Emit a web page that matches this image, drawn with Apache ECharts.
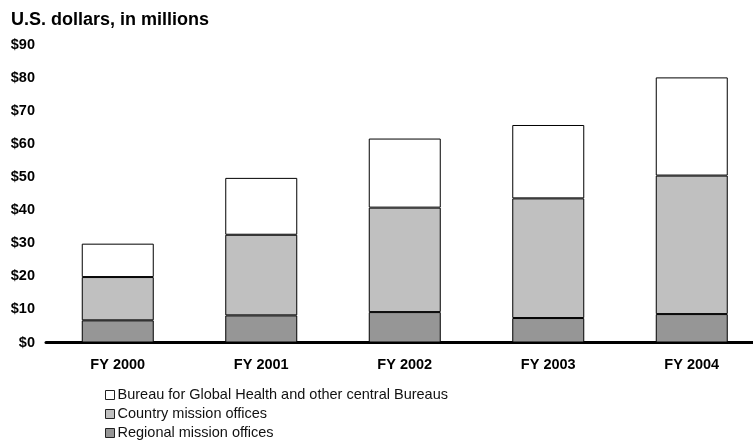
<!DOCTYPE html>
<html><head><meta charset="utf-8">
<script src="https://cdn.jsdelivr.net/npm/echarts@6/dist/echarts.min.js"></script>
<style>html,body{margin:0;padding:0;background:#fff;overflow:hidden}#c{width:770px;height:441px}</style>
</head><body><div id="c"></div>
<script>
const categories = ['FY 2000', 'FY 2001', 'FY 2002', 'FY 2003', 'FY 2004'];
const regionalMission = [6.7, 8.2, 9.2, 7.4, 8.6];
const countryMission = [13.1, 24.4, 31.6, 36.2, 41.9];
const bureauGlobal = [10.1, 17.2, 20.9, 22.2, 29.7];
const seriesNames = ['Bureau for Global Health and other central Bureaus', 'Country mission offices', 'Regional mission offices'];

const chart = echarts.init(document.getElementById('c'));
const font = 'Liberation Sans, Arial, Helvetica, sans-serif';
const barStyle = c => ({ color: c, borderColor: '#000', borderWidth: 1 });
chart.setOption({
  animation: false,
  title: { text: 'U.S. dollars, in millions', left: 11, top: 11, padding: 0,
    textStyle: { fontFamily: font, fontSize: 18, fontWeight: 'bold', color: '#000' } },
  legend: {
    orient: 'vertical', left: 105, top: 387, padding: 0, icon: 'rect', itemWidth: 9, itemHeight: 9, itemGap: 3,
    height: 60,
    itemStyle: { borderColor: '#222', borderWidth: 1 },
    data: seriesNames,
    textStyle: { fontFamily: font, fontSize: 14.5, lineHeight: 16, color: '#111', padding: [0, 0, 0, -2] }
  },
  grid: { left: 46, right: 6.5, top: 45, bottom: 98.5, containLabel: false },
  xAxis: {
    type: 'category', data: categories,
    axisLine: { lineStyle: { color: '#000', width: 3 } },
    axisTick: { show: false },
    axisLabel: { fontFamily: font, fontSize: 14.5, fontWeight: 'bold', color: '#000', margin: 15 }
  },
  yAxis: {
    type: 'value', min: 0, max: 90, interval: 10,
    axisLine: { show: false }, axisTick: { show: false }, splitLine: { show: false },
    axisLabel: { fontFamily: font, fontSize: 14.5, fontWeight: 'bold', color: '#000', margin: 11,
      formatter: v => '$' + v }
  },
  series: [
    { name: seriesNames[2], type: 'bar', stack: 't', barWidth: 72, data: regionalMission, itemStyle: barStyle('#969696') },
    { name: seriesNames[1], type: 'bar', stack: 't', barWidth: 72, data: countryMission, itemStyle: barStyle('#c0c0c0') },
    { name: seriesNames[0], type: 'bar', stack: 't', barWidth: 72, data: bureauGlobal, itemStyle: barStyle('#ffffff') }
  ]
});
</script></body></html>
